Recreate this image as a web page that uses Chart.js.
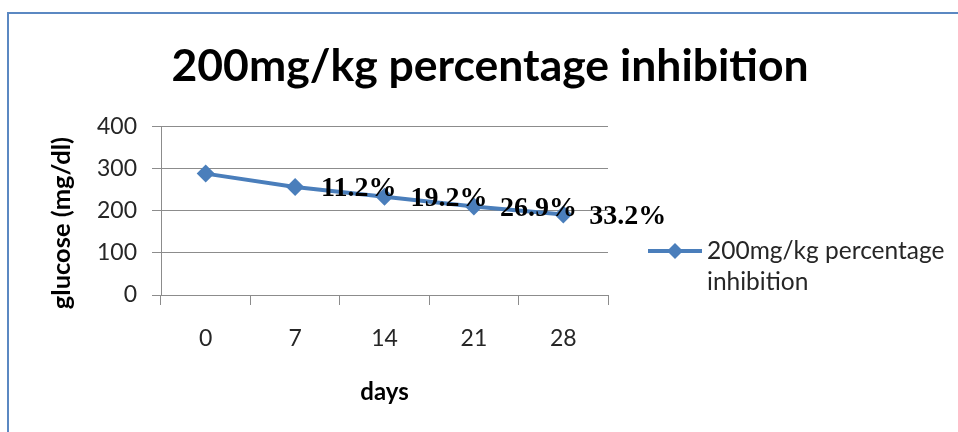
<!DOCTYPE html>
<html>

<head>
    <title>200mg/kg percentage inhibition</title>
    <style type="text/css">
        html, body {
            margin: 0;
            padding: 0;
            background: #ffffff;
        }

        #frame {
            position: absolute;
            left: 7px;
            top: 12px;
            width: 960px;
            height: 430px;
            border-top: 2px solid #5b88c2;
            border-left: 2px solid #5b88c2;
        }

        #wrap {
            position: absolute;
            left: 0;
            top: 0;
            width: 958px;
            height: 432px;
        }
    </style>
</head>

<body>
    <div id="frame"></div>
    <div id="wrap"><canvas id="chartContainer"></canvas></div>
    <script src="https://cdn.jsdelivr.net/npm/chart.js@4.4.1/dist/chart.umd.min.js"></script>
    <script>
        // data
        var days = ['0', '7', '14', '21', '28'];
        var glucose = [288, 256, 233, 210, 191];
        var inhibitionLabels = ['', '11.2%', '19.2%', '26.9%', '33.2%'];
        var yTicks = [0, 100, 200, 300, 400];

        var seriesName = '200mg/kg percentage inhibition';
        var lineColor = '#4a7ebb';
        var gridColor = '#8c8c8c';
        var sansFont = 'Lato, "Liberation Sans", sans-serif';

        // percentage labels next to the points + the two-line legend on the right
        var extrasPlugin = {
            id: 'extras',
            afterDatasetsDraw(chart) {
                var ctx = chart.ctx;
                var meta = chart.getDatasetMeta(0);
                ctx.save();
                ctx.fillStyle = '#000000';
                ctx.font = 'bold 28px "Liberation Serif", "Times New Roman", serif';
                ctx.textAlign = 'left';
                ctx.textBaseline = 'middle';
                meta.data.forEach((pt, i) => {
                    if (inhibitionLabels[i]) {
                        ctx.fillText(inhibitionLabels[i], pt.x + 26, pt.y + 2);
                    }
                });

                // legend
                var area = chart.chartArea;
                var lx = area.right + 40;
                var ly = 251;
                ctx.strokeStyle = lineColor;
                ctx.lineWidth = 4;
                ctx.beginPath();
                ctx.moveTo(lx, ly);
                ctx.lineTo(lx + 54, ly);
                ctx.stroke();
                ctx.fillStyle = lineColor;
                ctx.beginPath();
                ctx.moveTo(lx + 27, ly - 8);
                ctx.lineTo(lx + 35, ly);
                ctx.lineTo(lx + 27, ly + 8);
                ctx.lineTo(lx + 19, ly);
                ctx.closePath();
                ctx.fill();

                ctx.fillStyle = '#262626';
                ctx.font = '24.5px ' + sansFont;
                ctx.fillText('200mg/kg percentage', lx + 59, ly);
                ctx.fillText('inhibition', lx + 59, ly + 31);
                ctx.restore();
            }
        };

        new Chart(document.getElementById('chartContainer').getContext('2d'), {
            type: 'line',
            data: {
                labels: days,
                datasets: [{
                    label: seriesName,
                    data: glucose,
                    borderColor: lineColor,
                    backgroundColor: lineColor,
                    borderWidth: 4,
                    pointStyle: 'rectRot',
                    pointRadius: 9,
                    pointBorderWidth: 0,
                    pointBackgroundColor: lineColor,
                    tension: 0
                }]
            },
            options: {
                responsive: true,
                maintainAspectRatio: false,
                animation: false,
                layout: {
                    padding: { left: 22, right: 0, top: 0, bottom: 0 }
                },
                plugins: {
                    legend: { display: false },
                    tooltip: { enabled: false },
                    title: {
                        display: true,
                        text: seriesName,
                        color: '#000000',
                        font: { family: sansFont, size: 44.5, weight: 'bold' },
                        padding: { top: 40, bottom: 33 }
                    }
                },
                scales: {
                    x: {
                        offset: true,
                        grid: {
                            offset: true,
                            drawOnChartArea: false,
                            drawTicks: true,
                            tickLength: 10,
                            color: gridColor
                        },
                        border: { color: gridColor },
                        ticks: {
                            color: '#262626',
                            font: { family: sansFont, size: 23 },
                            padding: 20,
                            maxRotation: 0
                        },
                        title: {
                            display: true,
                            text: 'days',
                            color: '#000000',
                            font: { family: sansFont, size: 24, weight: 'bold' },
                            padding: { top: 25, bottom: 25 }
                        },
                        afterFit(s) { s.height = 137; }
                    },
                    y: {
                        min: 0,
                        max: 400,
                        afterBuildTicks(s) { s.ticks = yTicks.map(v => ({ value: v })); },
                        grid: {
                            color: gridColor,
                            tickLength: 9
                        },
                        border: { color: gridColor },
                        ticks: {
                            color: '#262626',
                            font: { family: sansFont, size: 23 },
                            padding: 15
                        },
                        title: {
                            display: true,
                            // trailing spaces push the centred text a little lower, as in the picture
                            text: 'glucose (mg/dl)    ',
                            color: '#000000',
                            font: { family: sansFont, size: 25.5, weight: 'bold' },
                            padding: { top: 24, bottom: 24 }
                        },
                        afterFit(s) { s.width = 139; }
                    },
                    yRight: {
                        type: 'linear',
                        position: 'right',
                        display: true,
                        grid: { display: false },
                        border: { display: false },
                        ticks: { display: false },
                        afterFit(s) { s.width = 350; }
                    }
                }
            },
            plugins: [extrasPlugin]
        });
    </script>
</body>

</html>
